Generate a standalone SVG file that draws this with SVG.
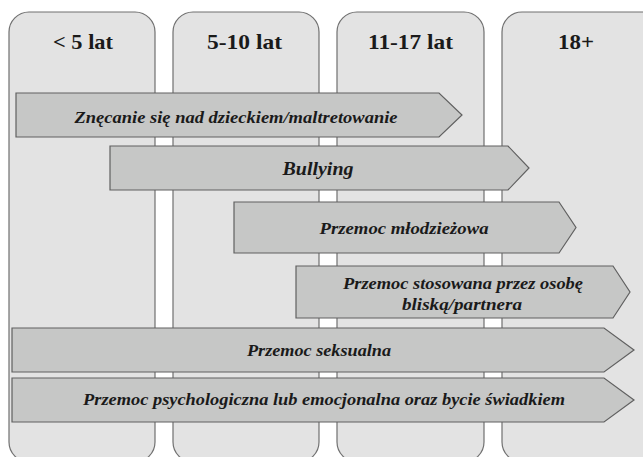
<svg xmlns="http://www.w3.org/2000/svg" width="643" height="457" viewBox="0 0 643 457">
<style>
.col{fill:#e3e3e3;stroke:#707070;stroke-width:1.2}
.arr{fill:#c6c7c6;stroke:#606060;stroke-width:1.2}
.hd{font-family:"Liberation Serif","Times New Roman","DejaVu Serif",serif;font-weight:700;font-size:21px;fill:#1a1a1a;text-anchor:middle}
.lb{font-family:"Liberation Serif","Times New Roman","DejaVu Serif",serif;font-weight:700;font-style:italic;font-size:16px;fill:#1a1a1a;text-anchor:middle}
</style>
<rect width="643" height="457" fill="#ffffff"/>
<g id="col1"><rect class="col" x="9" y="12" width="146" height="450" rx="20"/><text class="hd" x="83" y="49" textLength="60" lengthAdjust="spacingAndGlyphs">&lt; 5 lat</text></g>
<g id="col2"><rect class="col" x="173" y="12" width="146" height="450" rx="20"/><text class="hd" x="244.5" y="49" textLength="75" lengthAdjust="spacingAndGlyphs">5-10 lat</text></g>
<g id="col3"><rect class="col" x="337" y="12" width="147" height="450" rx="20"/><text class="hd" x="410.5" y="49" textLength="85" lengthAdjust="spacingAndGlyphs">11-17 lat</text></g>
<g id="col4"><rect class="col" x="502" y="12" width="160" height="450" rx="20"/><text class="hd" x="576" y="49" textLength="36" lengthAdjust="spacingAndGlyphs">18+</text></g>
<g id="connectors">
<g id="a1"><polygon class="arr" points="16,93 439,93 462,115 439,137 16,137"/><text class="lb" x="236" y="123" textLength="323" lengthAdjust="spacingAndGlyphs">Znęcanie się nad dzieckiem/maltretowanie</text></g>
<g id="a2"><polygon class="arr" points="110,146 508,146 529,168 508,190 110,190"/><text class="lb" x="318" y="175" style="font-size:19px" textLength="71" lengthAdjust="spacingAndGlyphs">Bullying</text></g>
<g id="a3"><polygon class="arr" points="234,202 559,202 576,227.5 559,253 234,253"/><text class="lb" x="404" y="234" textLength="169" lengthAdjust="spacingAndGlyphs">Przemoc młodzieżowa</text></g>
<g id="a4"><polygon class="arr" points="296,266 613,266 630,292 613,318 296,318"/><text class="lb" x="463" y="289" textLength="240" lengthAdjust="spacingAndGlyphs">Przemoc stosowana przez osobę</text><text class="lb" x="462" y="310" textLength="120" lengthAdjust="spacingAndGlyphs">bliską/partnera</text></g>
<g id="a5"><polygon class="arr" points="12,328 604,328 634,350 604,372 12,372"/><text class="lb" x="319" y="356" textLength="144" lengthAdjust="spacingAndGlyphs">Przemoc seksualna</text></g>
<g id="a6"><polygon class="arr" points="12,378 604,378 634,400 604,422 12,422"/><text class="lb" x="324" y="405" textLength="482" lengthAdjust="spacingAndGlyphs">Przemoc psychologiczna lub emocjonalna oraz bycie świadkiem</text></g>
</g>
</svg>
